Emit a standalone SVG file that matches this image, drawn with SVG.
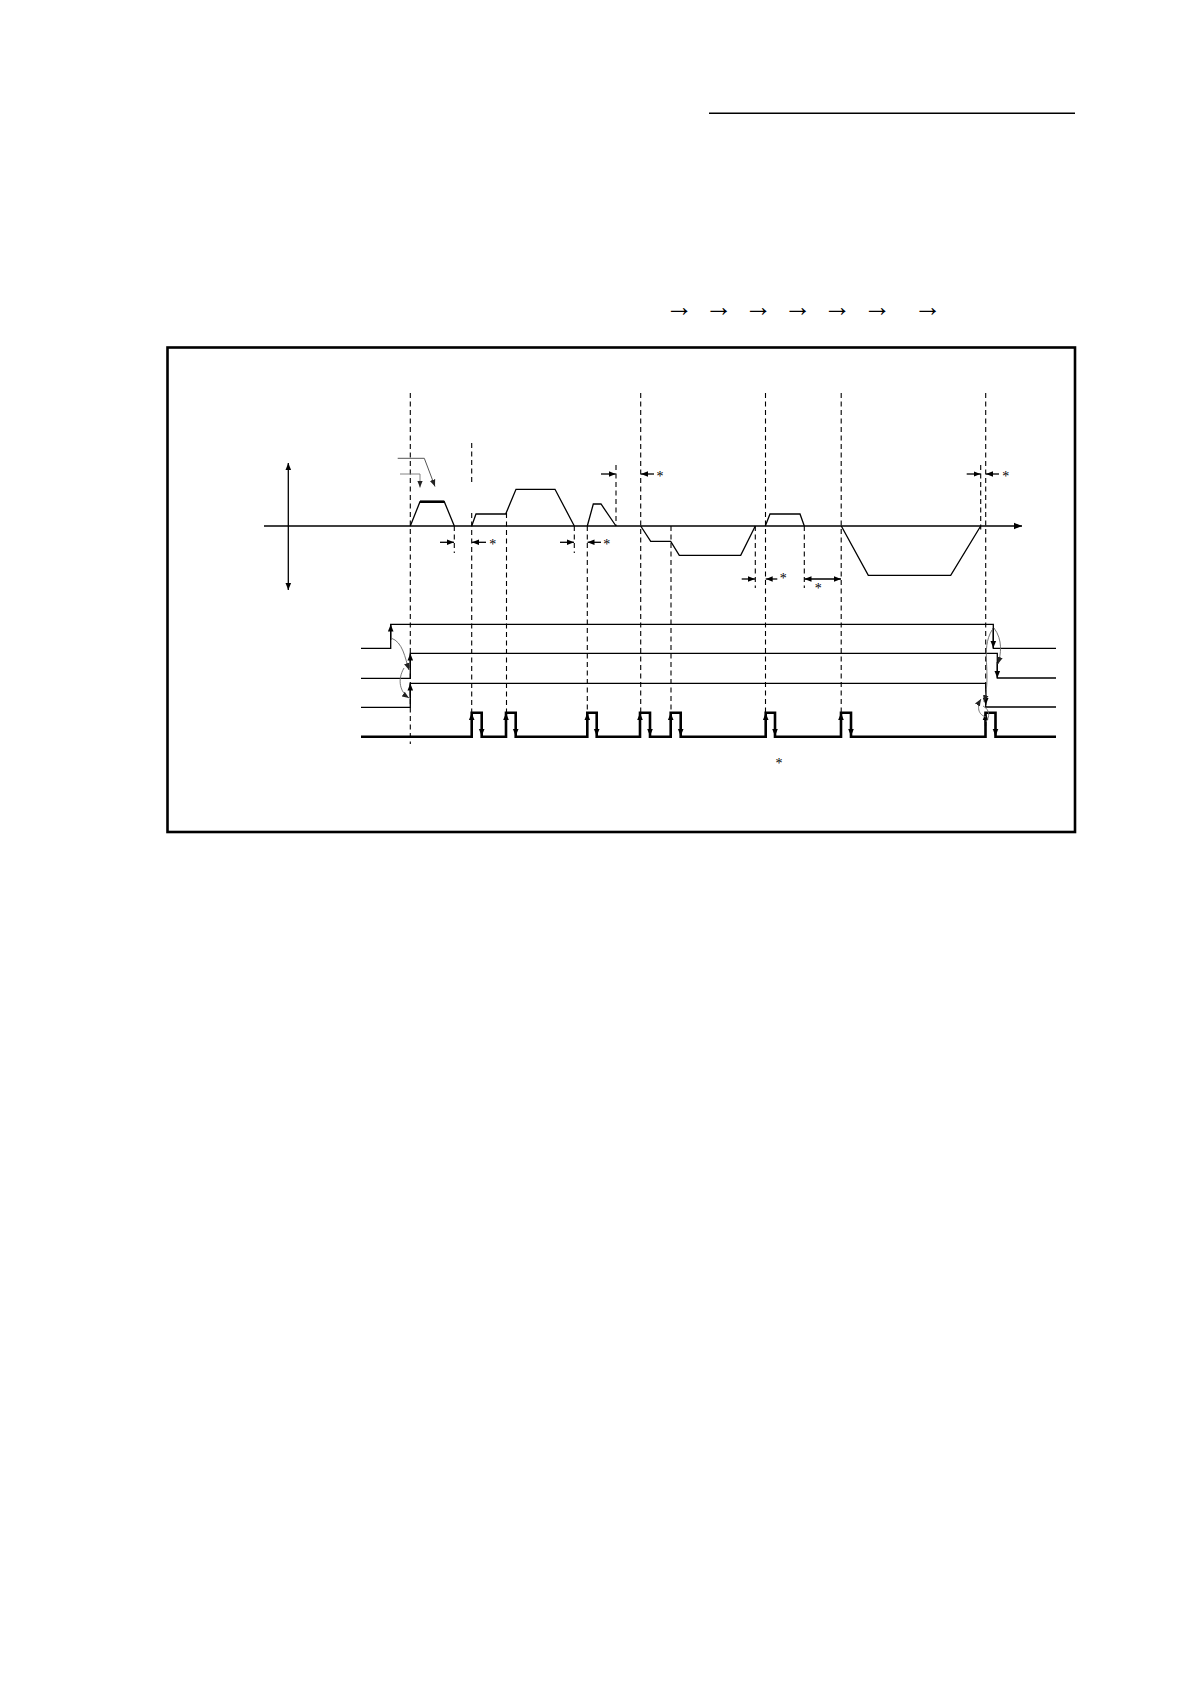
<svg xmlns="http://www.w3.org/2000/svg" width="1190" height="1684" viewBox="0 0 1190 1684">
<style>
.ln{fill:none;stroke:#000;stroke-width:1.3}
.bold{fill:none;stroke:#000;stroke-width:2.6}
.dash{fill:none;stroke:#000;stroke-width:1.1;stroke-dasharray:5,3.5}
.curve{fill:none;stroke:#666;stroke-width:0.9}
.txt{font-family:"Liberation Serif","Times New Roman",serif;fill:#000}
</style>
<defs>
<marker id="ah" viewBox="0 0 10 10" refX="10" refY="5" markerWidth="8" markerHeight="8" markerUnits="userSpaceOnUse" orient="auto">
<path d="M0,1 L10,5 L0,9 Z" fill="#000"/>
</marker>
<marker id="ahs" viewBox="0 0 10 10" refX="10" refY="5" markerWidth="7" markerHeight="7" markerUnits="userSpaceOnUse" orient="auto-start-reverse">
<path d="M0,1 L10,5 L0,9 Z" fill="#000"/>
</marker>
<marker id="ahg" viewBox="0 0 10 10" refX="10" refY="5" markerWidth="7" markerHeight="7" markerUnits="userSpaceOnUse" orient="auto">
<path d="M0,1 L10,5 L0,9 Z" fill="#222"/>
</marker>
</defs>

<g id="header">
<line x1="709" y1="113.3" x2="1075" y2="113.3" stroke="#000" stroke-width="1.6"/>
</g>

<g id="sequence-arrows" class="txt" font-size="28">
<text x="665" y="316">→</text>
<text x="704.5" y="316">→</text>
<text x="744" y="316">→</text>
<text x="783.5" y="316">→</text>
<text x="823" y="316">→</text>
<text x="863" y="316">→</text>
<text x="913.5" y="316">→</text>
</g>

<g id="frame">
<rect x="167.5" y="347.5" width="907.5" height="484.5" fill="none" stroke="#000" stroke-width="2.6"/>
</g>

<g id="axes">
<line class="ln" x1="264" y1="526" x2="1022" y2="526" marker-end="url(#ah)"/>
<line class="ln" x1="288.3" y1="463" x2="288.3" y2="590" marker-start="url(#ahs)" marker-end="url(#ahs)"/>
</g>

<g id="dashed-lines">
<line class="dash" x1="410.3" y1="393" x2="410.3" y2="744"/>
<line class="dash" x1="471.7" y1="443" x2="471.7" y2="485"/>
<line class="dash" x1="471.7" y1="513" x2="471.7" y2="713"/>
<line class="dash" x1="506.5" y1="513" x2="506.5" y2="713"/>
<line class="dash" x1="587.3" y1="526" x2="587.3" y2="713"/>
<line class="dash" x1="640.7" y1="393" x2="640.7" y2="713"/>
<line class="dash" x1="671" y1="526" x2="671" y2="713"/>
<line class="dash" x1="765.5" y1="393" x2="765.5" y2="713"/>
<line class="dash" x1="841.2" y1="393" x2="841.2" y2="713"/>
<line class="dash" x1="985.7" y1="393" x2="985.7" y2="684"/>
<line class="dash" x1="454.3" y1="526" x2="454.3" y2="553"/>
<line class="dash" x1="574.3" y1="526" x2="574.3" y2="553"/>
<line class="dash" x1="616" y1="465" x2="616" y2="526"/>
<line class="dash" x1="755.3" y1="526" x2="755.3" y2="588"/>
<line class="dash" x1="804.3" y1="526" x2="804.3" y2="588"/>
<line class="dash" x1="980.7" y1="465" x2="980.7" y2="530"/>
</g>

<g id="speed-profile">
<polyline class="ln" points="410.3,526 420,501.7 444.3,501.7 454.3,526"/>
<line x1="420" y1="501.7" x2="444.3" y2="501.7" stroke="#000" stroke-width="2.6"/>
<polyline class="ln" points="471.7,526 476,514 505.7,514 516,489.3 555,489.3 574.3,526"/>
<polyline class="ln" points="587.3,526 593.3,504 601,504 616,526"/>
<polyline class="ln" points="640.7,526 650.7,541.3 670.7,541.3 679.3,555.3 740.7,555.3 755.3,526"/>
<polyline class="ln" points="765.3,526 770,514 800,514 804.3,526"/>
<polyline class="ln" points="841.3,526 868.3,575.3 950.7,575.3 980.7,526"/>
</g>

<g id="label-pointers">
<polyline fill="none" stroke="#555" stroke-width="1" points="397.7,458.3 424.3,458.3 435,486.5" marker-end="url(#ahg)"/>
<polyline fill="none" stroke="#777" stroke-width="0.9" points="400,474 420,474 420,487.5" marker-end="url(#ahg)"/>
</g>

<g id="time-markers">
<line class="ln" x1="440" y1="542.3" x2="454" y2="542.3" marker-end="url(#ahs)"/>
<line class="ln" x1="486" y1="542.3" x2="472" y2="542.3" marker-end="url(#ahs)"/>
<line class="ln" x1="560" y1="542.3" x2="574" y2="542.3" marker-end="url(#ahs)"/>
<line class="ln" x1="601" y1="542.3" x2="587.5" y2="542.3" marker-end="url(#ahs)"/>
<line class="ln" x1="601" y1="474" x2="615.7" y2="474" marker-end="url(#ahs)"/>
<line class="ln" x1="654" y1="474" x2="641" y2="474" marker-end="url(#ahs)"/>
<line class="ln" x1="966.7" y1="474" x2="980.5" y2="474" marker-end="url(#ahs)"/>
<line class="ln" x1="999" y1="474" x2="986" y2="474" marker-end="url(#ahs)"/>
<line class="ln" x1="741.7" y1="579" x2="755" y2="579" marker-end="url(#ahs)"/>
<line class="ln" x1="777.3" y1="579" x2="765.7" y2="579" marker-end="url(#ahs)"/>
<line class="ln" x1="804.5" y1="579" x2="841" y2="579" marker-start="url(#ahs)" marker-end="url(#ahs)"/>
</g>

<g id="asterisks" class="txt" font-size="14" text-anchor="middle">
<text x="492.7" y="549">*</text>
<text x="606.7" y="549">*</text>
<text x="660" y="481">*</text>
<text x="1005.7" y="481">*</text>
<text x="783.3" y="583">*</text>
<text x="818.3" y="593">*</text>
<text x="779" y="768">*</text>
</g>

<g id="signal-1">
<polyline class="ln" points="361,648.3 390.7,648.3 390.7,624.3 993.3,624.3 993.3,648.3 1056,648.3"/>
<line class="ln" x1="390.7" y1="640" x2="390.7" y2="624.5" marker-end="url(#ahs)"/>
<line class="ln" x1="993.3" y1="628" x2="993.3" y2="648" marker-end="url(#ahs)"/>
</g>
<g id="signal-2">
<polyline class="ln" points="361,678.3 410.3,678.3 410.3,653.3 997.3,653.3 997.3,678 1056,678"/>
<line class="ln" x1="410.3" y1="668" x2="410.3" y2="653.5" marker-end="url(#ahs)"/>
<line class="ln" x1="997.3" y1="662" x2="997.3" y2="678" marker-end="url(#ahs)"/>
</g>
<g id="signal-3">
<polyline class="ln" points="361,707.3 410.3,707.3 410.3,683.3 985.7,683.3 985.7,707 1056,707"/>
<line class="ln" x1="410.3" y1="698" x2="410.3" y2="683.5" marker-end="url(#ahs)"/>
<line class="ln" x1="985.7" y1="690" x2="985.7" y2="705" marker-end="url(#ahs)"/>
</g>
<g id="signal-4">
<polyline class="bold" points="361,736.7 471.7,736.7 471.7,712.7 481.7,712.7 481.7,736.7 506,736.7 506,712.7 515.7,712.7 515.7,736.7 587.3,736.7 587.3,712.7 596.7,712.7 596.7,736.7 640,736.7 640,712.7 650,712.7 650,736.7 670.7,736.7 670.7,712.7 680.7,712.7 680.7,736.7 765.7,736.7 765.7,712.7 775,712.7 775,736.7 841,736.7 841,712.7 851,712.7 851,736.7 985.5,736.7 985.5,712.7 995.5,712.7 995.5,736.7 1056,736.7"/>
</g>

<g id="pulse-arrows">
<line class="ln" x1="471.7" y1="726" x2="471.7" y2="713" marker-end="url(#ahs)"/>
<line class="ln" x1="481.7" y1="720" x2="481.7" y2="736" marker-end="url(#ahs)"/>
<line class="ln" x1="506" y1="726" x2="506" y2="713" marker-end="url(#ahs)"/>
<line class="ln" x1="515.7" y1="720" x2="515.7" y2="736" marker-end="url(#ahs)"/>
<line class="ln" x1="587.3" y1="726" x2="587.3" y2="713" marker-end="url(#ahs)"/>
<line class="ln" x1="596.7" y1="720" x2="596.7" y2="736" marker-end="url(#ahs)"/>
<line class="ln" x1="640" y1="726" x2="640" y2="713" marker-end="url(#ahs)"/>
<line class="ln" x1="650" y1="720" x2="650" y2="736" marker-end="url(#ahs)"/>
<line class="ln" x1="670.7" y1="726" x2="670.7" y2="713" marker-end="url(#ahs)"/>
<line class="ln" x1="680.7" y1="720" x2="680.7" y2="736" marker-end="url(#ahs)"/>
<line class="ln" x1="765.7" y1="726" x2="765.7" y2="713" marker-end="url(#ahs)"/>
<line class="ln" x1="775" y1="720" x2="775" y2="736" marker-end="url(#ahs)"/>
<line class="ln" x1="841" y1="726" x2="841" y2="713" marker-end="url(#ahs)"/>
<line class="ln" x1="851" y1="720" x2="851" y2="736" marker-end="url(#ahs)"/>
<line class="ln" x1="985.5" y1="726" x2="985.5" y2="713" marker-end="url(#ahs)"/>
<line class="ln" x1="995.5" y1="720" x2="995.5" y2="736" marker-end="url(#ahs)"/>
</g>

<g id="connectors">
<path class="curve" d="M391,638 C403,642 405,658 409,670" marker-end="url(#ahg)"/>
<path class="curve" d="M404,668 C397,680 400,692 409,698" marker-end="url(#ahg)"/>
<path class="curve" d="M994,628 C1003,640 1001,654 998,664" marker-end="url(#ahg)"/>
<path class="curve" d="M992,630 C980,650 992,672 984,702" marker-end="url(#ahg)"/>
<path class="curve" d="M986,717 C976,714 978,704 981,699" marker-end="url(#ahg)"/>
<path class="curve" d="M983,706 C990,710 990,716 986,722"/>
</g>
</svg>
